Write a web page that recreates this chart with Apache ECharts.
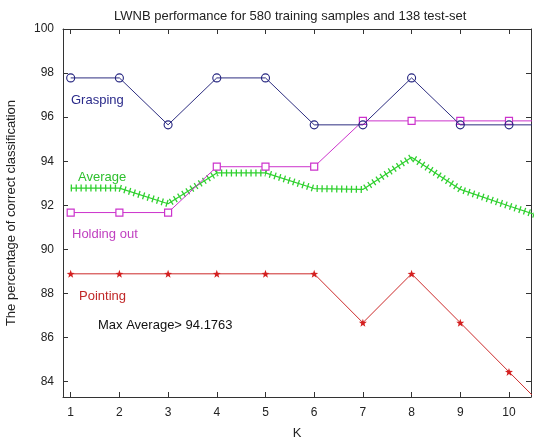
<!DOCTYPE html>
<html>
<head>
<meta charset="utf-8">
<script src="https://cdn.jsdelivr.net/npm/echarts@6/dist/echarts.min.js"></script>
<style>html,body{margin:0;padding:0;background:#fff}#c{width:534px;height:441px}</style>
</head>
<body>
<div id="c"></div>
<script>
// K values (last point lies beyond the visible x range and is clipped)
const kValues = [1, 2, 3, 4, 5, 6, 7, 8, 9, 10, 11];
const grasping   = [97.78, 97.78, 95.65, 97.78, 97.78, 95.65, 95.65, 97.78, 95.65, 95.65, 95.65];
const holdingOut = [91.67, 91.67, 91.67, 93.75, 93.75, 93.75, 95.83, 95.83, 95.83, 95.83, 95.83];
const pointing   = [88.89, 88.89, 88.89, 88.89, 88.89, 88.89, 86.67, 88.89, 86.67, 84.44, 82.22];
const average    = [92.78, 92.78, 92.07, 93.47, 93.47, 92.76, 92.72, 94.18, 92.72, 91.97, 91.23];
const xTicks = [1, 2, 3, 4, 5, 6, 7, 8, 9, 10];
const yTicks = [84, 86, 88, 90, 92, 94, 96, 98, 100];
const titleText = 'LWNB performance for 580 training samples and 138 test-set';
const xName = 'K';
const yName = 'The percentage of correct classification';
const maxAvgText = 'Max Average> 94.1763';

const pts = arr => kValues.map((k, i) => [k, arr[i]]);
const FONT = 'Liberation Sans, Arial, sans-serif';

const chart = echarts.init(document.getElementById('c'), null, {renderer: 'canvas'});
const axisLine = {show: true, onZero: false, lineStyle: {color: '#333', width: 1}};
const tick = {show: true, inside: true, length: 5, lineStyle: {color: '#333'}};

chart.setOption({
  animation: false,
  backgroundColor: '#fff',
  title: {text: titleText, left: 109, top: 5,
    textStyle: {fontFamily: FONT, fontSize: 13, fontWeight: 'normal', color: '#222'}},
  grid: {left: 63, right: 3, top: 29, bottom: 44, containLabel: false, outerBoundsMode: 'none'},
  xAxis: [
    {type: 'value', min: 0.842, max: 10.452, position: 'bottom',
     name: xName, nameLocation: 'middle', nameGap: 30,
     nameTextStyle: {fontFamily: FONT, fontSize: 13, color: '#222'},
     axisLine: axisLine, axisTick: Object.assign({customValues: xTicks}, tick),
     axisLabel: {customValues: xTicks, margin: 10, fontFamily: FONT, fontSize: 12, color: '#222'},
     splitLine: {show: false}},
    {type: 'value', min: 0.842, max: 10.452, position: 'top',
     axisLine: axisLine, axisTick: Object.assign({customValues: xTicks}, tick),
     axisLabel: {show: false, customValues: xTicks}, splitLine: {show: false}}
  ],
  yAxis: [
    {type: 'value', min: 83.3, max: 100, position: 'left',
     name: yName, nameLocation: 'middle', nameGap: 45,
     nameTextStyle: {fontFamily: FONT, fontSize: 13, color: '#222'},
     axisLine: axisLine, axisTick: Object.assign({customValues: yTicks}, tick),
     axisLabel: {customValues: yTicks, margin: 9, fontFamily: FONT, fontSize: 12, color: '#222'},
     splitLine: {show: false}},
    {type: 'value', min: 83.3, max: 100, position: 'right',
     axisLine: axisLine, axisTick: Object.assign({customValues: yTicks}, tick),
     axisLabel: {show: false, customValues: yTicks}, splitLine: {show: false}}
  ],
  series: [
    {name: 'Average line', type: 'line', data: pts(average), clip: true,
     symbol: 'none', lineStyle: {color: '#2fd02f', width: 1.2}, z: 2},
    {name: 'Average', type: 'line', data: pts(average), clip: true,
     symbol: 'none', lineStyle: {color: '#2fd02f', width: 7, type: [1.3, 3.6], cap: 'butt'}, z: 2},
    {name: 'Holding out', type: 'line', data: pts(holdingOut), clip: true,
     symbol: 'rect', symbolSize: 7, showAllSymbol: true,
     itemStyle: {color: '#fff', borderColor: '#cc33cc', borderWidth: 1.2},
     lineStyle: {color: '#cc33cc', width: 1}, z: 3},
    {name: 'Grasping', type: 'line', data: pts(grasping), clip: true,
     symbol: 'circle', symbolSize: 8, showAllSymbol: true,
     itemStyle: {color: 'rgba(255,255,255,0)', borderColor: '#23237f', borderWidth: 1.1},
     lineStyle: {color: '#2e2e80', width: 1}, z: 4},
    {name: 'Pointing', type: 'line', data: pts(pointing), clip: true,
     symbol: 'path://M0,-10 L2.35,-3.24 9.51,-3.09 3.8,1.24 5.88,8.09 0,4 -5.88,8.09 -3.8,1.24 -9.51,-3.09 -2.35,-3.24 Z',
     symbolSize: 8, showAllSymbol: true,
     itemStyle: {color: '#d42020'},
     lineStyle: {color: '#cc2a2a', width: 1}, z: 4}
  ],
  graphic: [
    {type: 'text', left: 71, top: 94, style: {text: 'Grasping', fill: '#2a2a8a', font: '13px ' + FONT}},
    {type: 'text', left: 78, top: 171, style: {text: 'Average', fill: '#2fc02f', font: '13px ' + FONT}},
    {type: 'text', left: 72, top: 228, style: {text: 'Holding out', fill: '#c040c0', font: '13px ' + FONT}},
    {type: 'text', left: 79, top: 290, style: {text: 'Pointing', fill: '#c02828', font: '13px ' + FONT}},
    {type: 'text', left: 98, top: 319, style: {text: maxAvgText, fill: '#111', font: '13px ' + FONT}}
  ]
});
</script>
</body>
</html>
